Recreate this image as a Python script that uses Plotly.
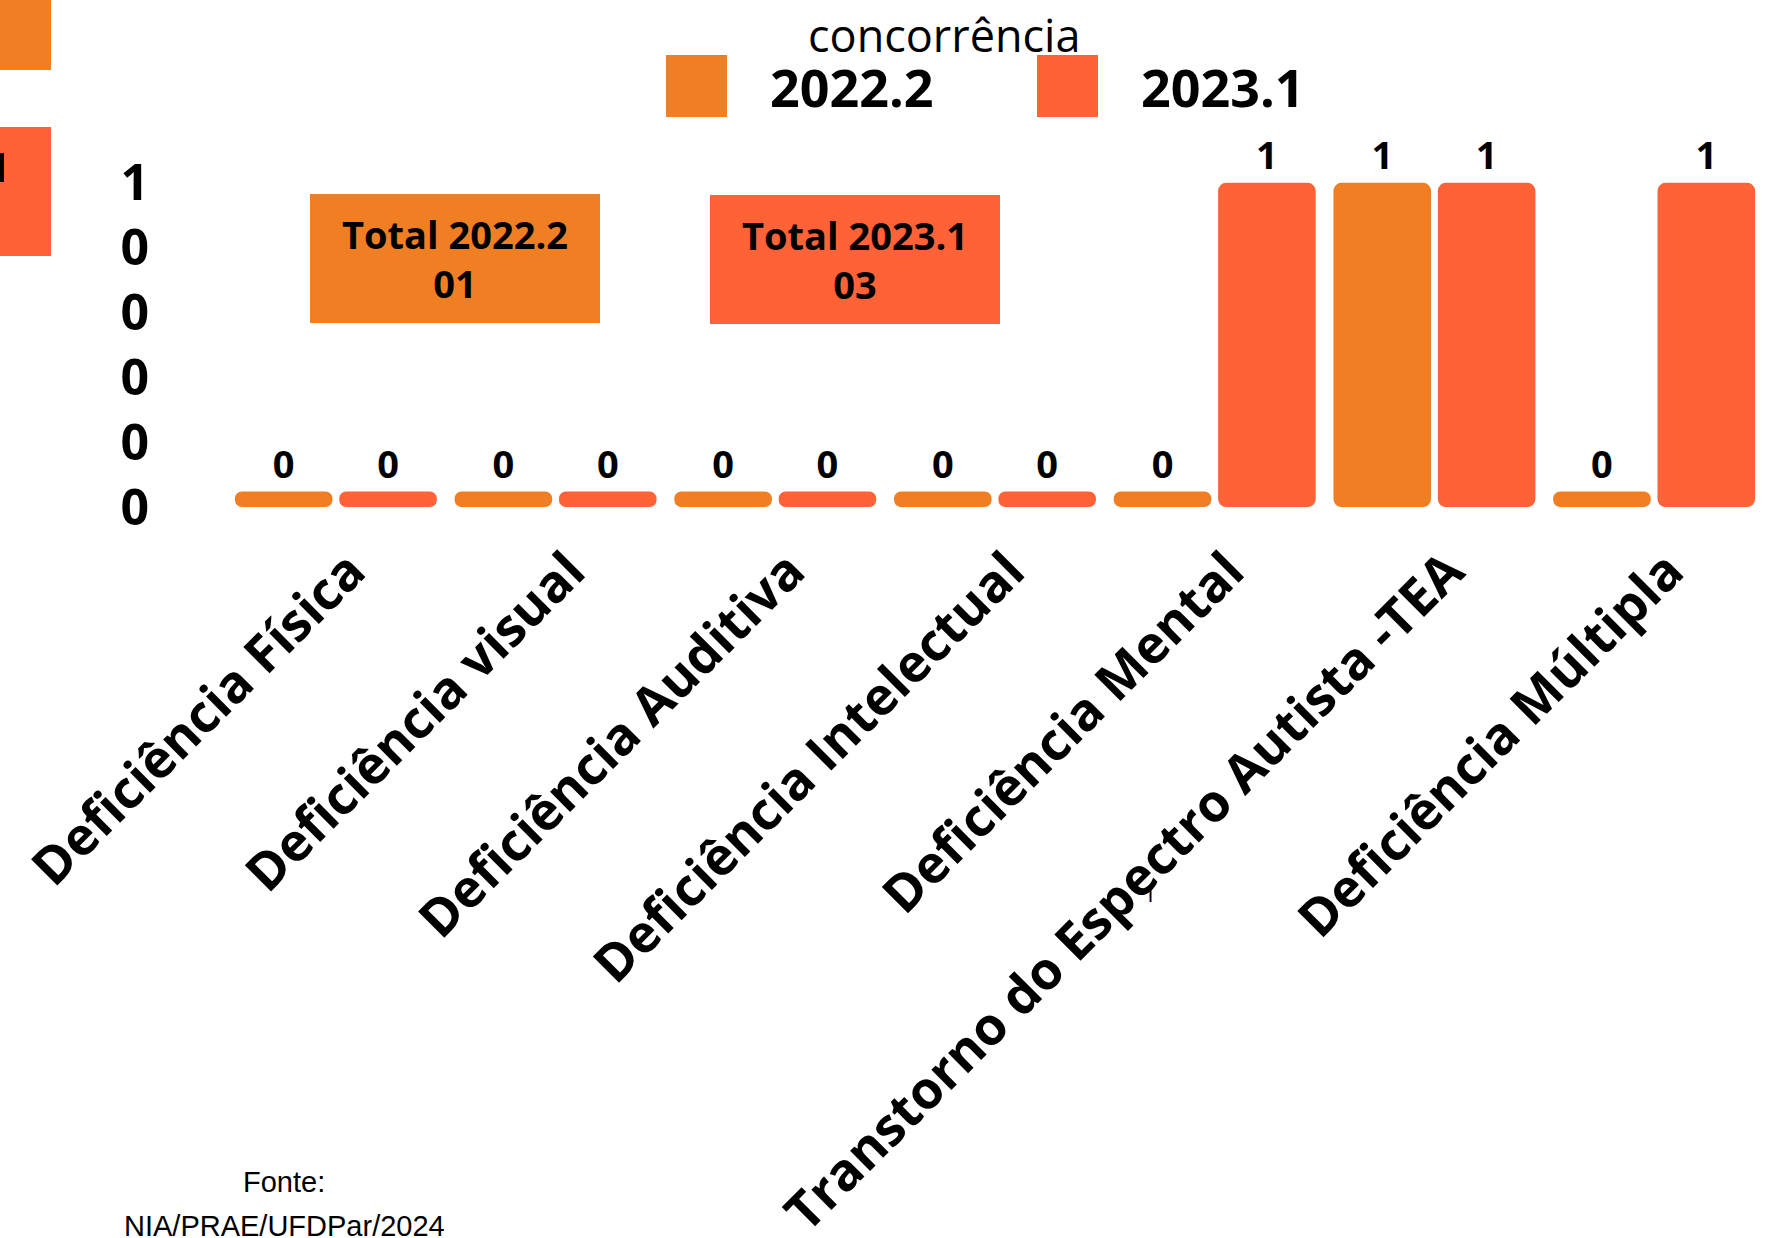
import plotly.graph_objects as go

# dados
categorias = ["Deficiência Física", "Deficiência visual", "Deficiência Auditiva",
              "Deficiência Intelectual", "Deficiência Mental",
              "Transtorno do Espectro Autista -TEA", "Deficiência Múltipla"]
semestres = ["2022.2", "2023.1"]
valores_2022_2 = [0, 0, 0, 0, 0, 1, 0]
valores_2023_1 = [0, 0, 0, 0, 1, 1, 1]
totais = ["01", "03"]
ytick_text = ["0", "0", "0", "0", "0", "1"]

cores = ["#F07F23", "#FF6236"]
STUB = 0.05  # zero bars still get a small visible stub

W, H = 1779, 1238
L, R, T, B = 226, 15, 152, 731


def px_x(x):
    return (x - L) / (W - L - R)


def px_y(y):
    return (H - B - y) / (H - T - B)


bold = dict(family="Open Sans", weight="bold", color="black")

fig = go.Figure()
for nome, vals, cor in zip(semestres, [valores_2022_2, valores_2023_1], cores):
    fig.add_trace(go.Bar(
        x=categorias,
        y=[v + STUB for v in vals],
        base=-STUB,
        name=nome,
        marker=dict(color=cor, cornerradius=8, line=dict(width=0)),
        text=[str(v) for v in vals],
        textposition="outside",
        textfont=dict(bold, size=38),
        constraintext="none",
        cliponaxis=False,
        showlegend=False,
    ))

fig.update_layout(
    width=W, height=H,
    autosize=False,
    margin=dict(l=L, r=R, t=T, b=B),
    plot_bgcolor="white",
    paper_bgcolor="white",
    barmode="group",
    bargap=0.05,
    bargroupgap=0.065,
    xaxis=dict(
        type="category",
        automargin=False,
        tickangle=-45,
        tickfont=dict(bold, size=52),
        ticklabelstandoff=22,
        ticklabelshift=14,
        showgrid=False, showline=False, zeroline=False,
        ticks="",
    ),
    yaxis=dict(
        automargin=False,
        range=[-STUB, 1.1],
        tickmode="array",
        tickvals=[-STUB + i * (1 + STUB) / 5 for i in range(6)],
        ticktext=ytick_text,
        tickfont=dict(bold, size=50),
        ticklabelstandoff=76,
        showgrid=False, showline=False, zeroline=False,
        ticks="",
    ),
)

# legenda feita a mao (quadrados grandes)
leg_sq = [666, 1037]
leg_txt = [768, 1139]
for nome, cor, sx, tx in zip(semestres, cores, leg_sq, leg_txt):
    fig.add_shape(type="rect", xref="paper", yref="paper",
                  x0=px_x(sx), x1=px_x(sx + 61), y0=px_y(117), y1=px_y(55),
                  fillcolor=cor, line=dict(width=0), layer="above")
    fig.add_annotation(text=nome, xref="paper", yref="paper",
                       x=px_x(tx), y=px_y(86), xanchor="left", yanchor="middle",
                       showarrow=False, font=dict(bold, size=52))
fig.add_annotation(text="concorrência", xref="paper", yref="paper",
                   x=px_x(944), y=px_y(34), xanchor="center", yanchor="middle",
                   showarrow=False, font=dict(family="Open Sans", size=45, color="black"))

# caixas de total
caixas = [(455, 258), (855, 259)]
for nome, tot, cor, (cx, cy) in zip(semestres, totais, cores, caixas):
    fig.add_annotation(text=f"Total {nome}<br>{tot}", xref="paper", yref="paper",
                       x=px_x(cx), y=px_y(cy), xanchor="center", yanchor="middle",
                       showarrow=False, width=290, height=129, bgcolor=cor,
                       borderpad=0, borderwidth=0, align="center",
                       font=dict(bold, size=38))

# restos de legenda cortados na esquerda
fig.add_shape(type="rect", xref="paper", yref="paper",
              x0=px_x(-10), x1=px_x(51), y0=px_y(70), y1=px_y(-10),
              fillcolor=cores[0], line=dict(width=0))
fig.add_shape(type="rect", xref="paper", yref="paper",
              x0=px_x(-10), x1=px_x(51), y0=px_y(256), y1=px_y(127),
              fillcolor=cores[1], line=dict(width=0))
fig.add_shape(type="rect", xref="paper", yref="paper",
              x0=px_x(-5), x1=px_x(4), y0=px_y(182), y1=px_y(153),
              fillcolor="black", line=dict(width=0))

fig.add_annotation(text="1", xref="paper", yref="paper",
                   x=px_x(1150), y=px_y(892), xanchor="center", yanchor="middle",
                   showarrow=False,
                   font=dict(family="Open Sans", size=24, color="black"))

# fonte
fig.add_annotation(text="Fonte:", xref="paper", yref="paper",
                   x=px_x(284), y=px_y(1182), xanchor="center", yanchor="middle",
                   showarrow=False,
                   font=dict(family="Liberation Sans", size=29, color="black"))
fig.add_annotation(text="NIA/PRAE/UFDPar/2024", xref="paper", yref="paper",
                   x=px_x(284), y=px_y(1226), xanchor="center", yanchor="middle",
                   showarrow=False,
                   font=dict(family="Liberation Sans", size=29, color="black"))

fig.write_html("out.html", config={"responsive": False, "displayModeBar": False},
               post_script="document.body.style.margin='0px';")
